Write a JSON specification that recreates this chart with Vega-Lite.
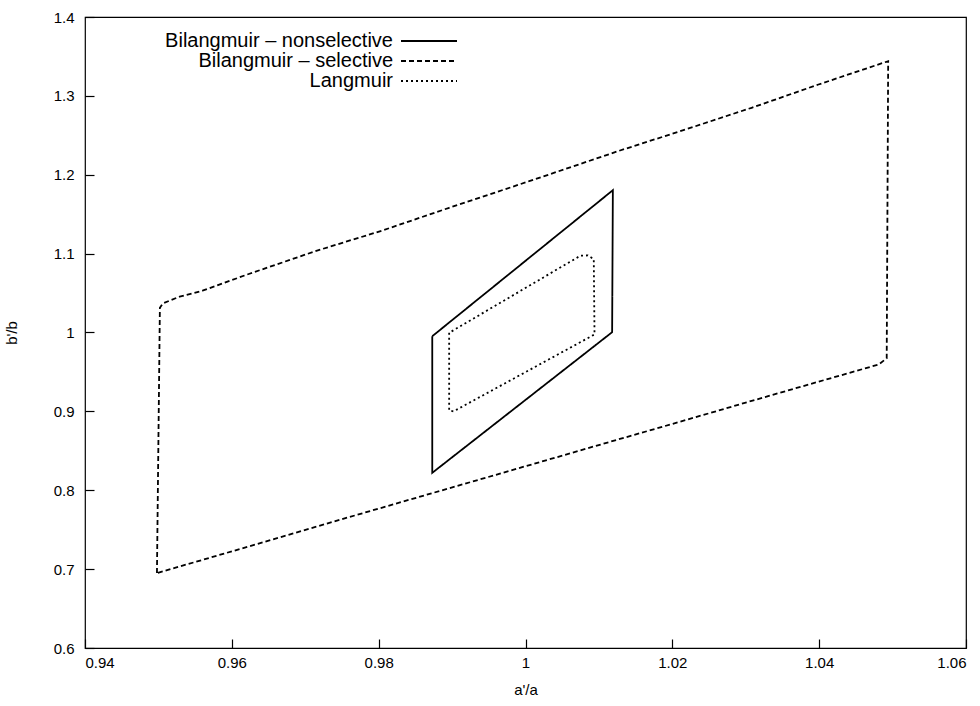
{
  "$schema": "https://vega.github.io/schema/vega-lite/v6.json",
  "width": 881,
  "height": 631,
  "autosize": {"type": "none"},
  "padding": {"left": 85, "top": 17, "right": 14, "bottom": 58},
  "background": "white",
  "config": {
    "font": "Liberation Sans",
    "view": {"stroke": "black", "strokeWidth": 1.2},
    "axis": {
      "grid": false,
      "domain": false,
      "ticks": true,
      "tickColor": "black",
      "tickSize": -9,
      "tickWidth": 1.2,
      "labelColor": "black",
      "labelFont": "Liberation Sans",
      "labelFontSize": 15,
      "titleFont": "Liberation Sans",
      "titleFontSize": 15,
      "titleFontWeight": "normal",
      "titleColor": "black"
    }
  },
  "data": {
    "values": [
      {"s": "Bilangmuir – selective", "i": 0, "x": 0.9498, "y": 0.6950},
      {"s": "Bilangmuir – selective", "i": 1, "x": 0.9502, "y": 1.0313},
      {"s": "Bilangmuir – selective", "i": 2, "x": 0.9506, "y": 1.0369},
      {"s": "Bilangmuir – selective", "i": 3, "x": 0.9529, "y": 1.0455},
      {"s": "Bilangmuir – selective", "i": 4, "x": 0.9560, "y": 1.0530},
      {"s": "Bilangmuir – selective", "i": 5, "x": 0.9624, "y": 1.0745},
      {"s": "Bilangmuir – selective", "i": 6, "x": 0.9715, "y": 1.1035},
      {"s": "Bilangmuir – selective", "i": 7, "x": 0.9805, "y": 1.1293},
      {"s": "Bilangmuir – selective", "i": 8, "x": 0.9896, "y": 1.1581},
      {"s": "Bilangmuir – selective", "i": 9, "x": 1.0005, "y": 1.1918},
      {"s": "Bilangmuir – selective", "i": 10, "x": 1.0127, "y": 1.2302},
      {"s": "Bilangmuir – selective", "i": 11, "x": 1.0218, "y": 1.2574},
      {"s": "Bilangmuir – selective", "i": 12, "x": 1.0308, "y": 1.2849},
      {"s": "Bilangmuir – selective", "i": 13, "x": 1.0399, "y": 1.3144},
      {"s": "Bilangmuir – selective", "i": 14, "x": 1.0494, "y": 1.3440},
      {"s": "Bilangmuir – selective", "i": 15, "x": 1.0492, "y": 0.9673},
      {"s": "Bilangmuir – selective", "i": 16, "x": 1.0481, "y": 0.9594},
      {"s": "Bilangmuir – selective", "i": 17, "x": 1.0399, "y": 0.9376},
      {"s": "Bilangmuir – selective", "i": 18, "x": 1.0308, "y": 0.9133},
      {"s": "Bilangmuir – selective", "i": 19, "x": 1.0218, "y": 0.8889},
      {"s": "Bilangmuir – selective", "i": 20, "x": 1.0127, "y": 0.8646},
      {"s": "Bilangmuir – selective", "i": 21, "x": 0.9991, "y": 0.8280},
      {"s": "Bilangmuir – selective", "i": 22, "x": 0.9896, "y": 0.8025},
      {"s": "Bilangmuir – selective", "i": 23, "x": 0.9760, "y": 0.7660},
      {"s": "Bilangmuir – selective", "i": 24, "x": 0.9624, "y": 0.7290},
      {"s": "Bilangmuir – selective", "i": 25, "x": 0.9498, "y": 0.6950},
      {"s": "Bilangmuir – nonselective", "i": 0, "x": 0.9873, "y": 0.9953},
      {"s": "Bilangmuir – nonselective", "i": 1, "x": 0.9873, "y": 0.8221},
      {"s": "Bilangmuir – nonselective", "i": 2, "x": 1.0118, "y": 1.0004},
      {"s": "Bilangmuir – nonselective", "i": 3, "x": 1.0119, "y": 1.1804},
      {"s": "Bilangmuir – nonselective", "i": 4, "x": 0.9873, "y": 0.9953},
      {"s": "Langmuir", "i": 0, "x": 0.9896, "y": 0.9996},
      {"s": "Langmuir", "i": 1, "x": 0.9896, "y": 0.9010},
      {"s": "Langmuir", "i": 2, "x": 0.9902, "y": 0.9000},
      {"s": "Langmuir", "i": 3, "x": 1.0094, "y": 0.9975},
      {"s": "Langmuir", "i": 4, "x": 1.0093, "y": 1.0930},
      {"s": "Langmuir", "i": 5, "x": 1.0085, "y": 1.0977},
      {"s": "Langmuir", "i": 6, "x": 1.0075, "y": 1.0975},
      {"s": "Langmuir", "i": 7, "x": 0.9896, "y": 0.9996}
    ]
  },
  "mark": {"type": "line", "color": "black", "strokeWidth": 1.8, "clip": true},
  "encoding": {
    "x": {
      "field": "x", "type": "quantitative",
      "scale": {"domain": [0.94, 1.06], "nice": false, "zero": false},
      "axis": {"title": "a'/a", "values": [0.94, 0.96, 0.98, 1, 1.02, 1.04, 1.06], "format": "~g", "ticks": true, "tickSize": -9, "labelPadding": 16, "titlePadding": 12}
    },
    "y": {
      "field": "y", "type": "quantitative",
      "scale": {"domain": [0.6, 1.4], "nice": false, "zero": false},
      "axis": {"title": "b'/b", "values": [0.6, 0.7, 0.8, 0.9, 1, 1.1, 1.2, 1.3, 1.4], "format": "~g", "ticks": true, "tickSize": -9, "labelPadding": 20, "titlePadding": 34}
    },
    "detail": {"field": "s"},
    "order": {"field": "i", "type": "quantitative"},
    "strokeDash": {
      "field": "s", "type": "nominal",
      "scale": {
        "domain": ["Bilangmuir – nonselective", "Bilangmuir – selective", "Langmuir"],
        "range": [[1, 0], [5, 3], [2, 3]]
      },
      "legend": {
        "title": null,
        "orient": "none",
        "legendX": 334,
        "legendY": 14,
        "symbolType": "M-4,0H4",
        "symbolSize": 196,
        "symbolStrokeColor": "black",
        "symbolStrokeWidth": 1.8,
        "labelAlign": "right",
        "labelOffset": -46,
        "labelFontSize": 20,
        "labelColor": "black",
        "labelFont": "Liberation Sans",
        "rowPadding": 0,
        "labelLimit": 500
      }
    }
  }
}
